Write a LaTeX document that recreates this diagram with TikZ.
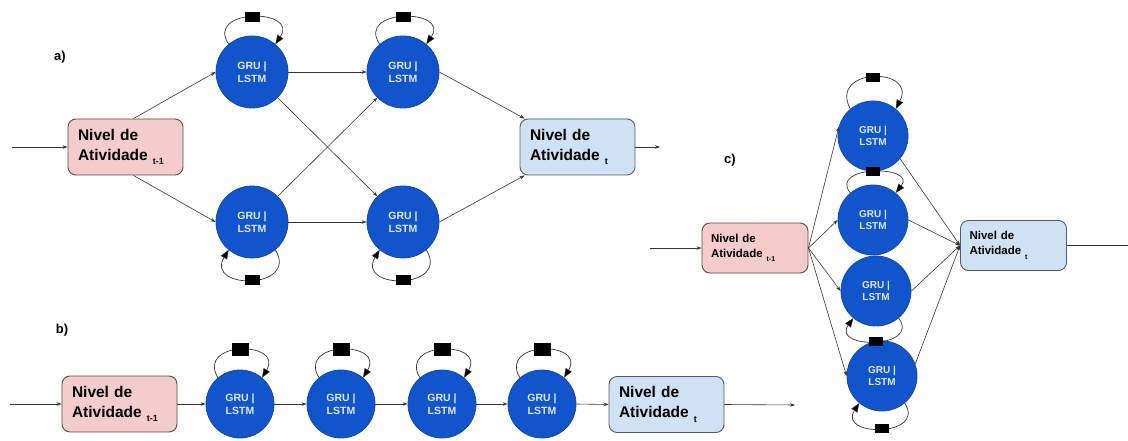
\documentclass[tikz,border=0pt]{standalone}
\usepackage{fontspec}
\setmainfont{Liberation Sans}
\usetikzlibrary{arrows.meta,calc}

\definecolor{gblue}{RGB}{17,85,204}
\definecolor{gblueedge}{RGB}{22,70,165}
\definecolor{pinkfill}{RGB}{244,204,204}
\definecolor{pinkedge}{RGB}{95,72,72}
\definecolor{lbfill}{RGB}{207,226,243}
\definecolor{lbedge}{RGB}{82,92,108}
\definecolor{celltext}{RGB}{225,232,246}

\newcommand{\subsc}[2]{\ {\fontsize{#1}{#1}\selectfont\raisebox{-4.5pt}{#2}}}

\tikzset{
 cell/.style={circle, fill=gblue, draw=gblueedge, line width=0.8pt, minimum size=72pt, inner sep=0pt, align=center, text=celltext, font=\bfseries\fontsize{10.5}{12.5}\selectfont},
 cellc/.style={cell, minimum size=70pt, font=\bfseries\fontsize{10}{12}\selectfont},
 boxbase/.style={rounded corners=8pt, line width=0.9pt, align=left, inner xsep=10pt, inner ysep=0pt, minimum width=115pt, text width=95pt, minimum height=56pt, font=\bfseries\fontsize{15.5}{20}\selectfont},
 boxsmall/.style={boxbase, minimum width=106pt, text width=88pt, inner xsep=9pt, minimum height=50pt, font=\bfseries\fontsize{11.5}{15}\selectfont},
 inbox/.style={fill=pinkfill, draw=pinkedge},
 outbox/.style={fill=lbfill, draw=lbedge},
 conn/.style={-{Stealth[length=5pt,width=3.5pt]}, line width=0.6pt, draw=black!80},
 selfloop/.style={-{Triangle[length=9pt,width=7pt,fill=black,line width=0.4pt]}, line width=0.7pt, draw=black!80},
 sq/.style={fill=black, minimum width=15pt, minimum height=10pt, inner sep=0pt},
 sqb/.style={sq, minimum width=17pt, minimum height=13pt},
 sqc/.style={sq, minimum width=14pt, minimum height=9pt},
 lab/.style={font=\bfseries\fontsize{13}{13}\selectfont},
}

\begin{document}
\begin{tikzpicture}[x=1pt,y=-1pt]
\useasboundingbox (0,0) rectangle (1128,441);

% ---------------- panel a ----------------
\node[lab] (la) at (60,57) {a)};
\node[boxbase,inbox] (pa) at (125.5,147) {Nivel de\\Atividade\subsc{9}{t-1}};
\node[boxbase,outbox] (ba) at (577.5,147) {Nivel de\\Atividade\subsc{9}{t}};
\node[cell] (a1) at (252,72) {GRU |\\LSTM};
\node[cell] (a2) at (403,72) {GRU |\\LSTM};
\node[cell] (a3) at (252,222) {GRU |\\LSTM};
\node[cell] (a4) at (403,222) {GRU |\\LSTM};
\coordinate (ina) at (12,147);
\coordinate (outa) at (660,147);

\draw[selfloop] (a1.130) .. controls +(-24,-36) and +(24,-36) .. node[sq] (sqa1) {} (a1.50);
\draw[selfloop] (a2.130) .. controls +(-24,-36) and +(24,-36) .. node[sq] (sqa2) {} (a2.50);
\draw[selfloop] (a3.-50) .. controls +(24,40) and +(-24,40) .. node[sq] (sqa3) {} (a3.-130);
\draw[selfloop] (a4.-50) .. controls +(24,40) and +(-24,40) .. node[sq] (sqa4) {} (a4.-130);

\draw[conn] (ina) -- (pa.west);
\draw[conn] ([xshift=8pt]pa.north) -- (a1.west);
\draw[conn] ([xshift=8pt]pa.south) -- (a3.west);
\draw[conn] (a1.east) -- (a2.west);
\draw[conn] (a3.east) -- (a4.west);
\draw[conn] (a1.-45) -- (a4.135);
\draw[conn] (a3.45) -- (a2.-135);
\draw[conn] (a2.east) -- ([xshift=5pt]ba.north west);
\draw[conn] (a4.east) -- ([xshift=5pt]ba.south west);
\draw[conn] (ba.east) -- (outa);

% ---------------- panel b ----------------
\node[lab] (lb) at (62,330) {b)};
\node[boxbase,inbox] (pb) at (119.5,404) {Nivel de\\Atividade\subsc{9}{t-1}};
\node[boxbase,outbox] (bb) at (666.5,404.5) {Nivel de\\Atividade\subsc{9}{t}};
\node[cell, minimum size=68pt] (b1) at (240,404) {GRU |\\LSTM};
\node[cell, minimum size=68pt] (b2) at (341,404) {GRU |\\LSTM};
\node[cell, minimum size=68pt] (b3) at (442,404) {GRU |\\LSTM};
\node[cell, minimum size=68pt] (b4) at (542,404) {GRU |\\LSTM};
\coordinate (inb) at (10,404);
\coordinate (outb) at (795,405);

\draw[selfloop] (b1.130) .. controls +(-22,-37) and +(22,-37) .. node[sqb] (sqb1) {} (b1.50);
\draw[selfloop] (b2.130) .. controls +(-22,-37) and +(22,-37) .. node[sqb] (sqb2) {} (b2.50);
\draw[selfloop] (b3.130) .. controls +(-22,-37) and +(22,-37) .. node[sqb] (sqb3) {} (b3.50);
\draw[selfloop] (b4.130) .. controls +(-22,-37) and +(22,-37) .. node[sqb] (sqb4) {} (b4.50);

\draw[conn] (inb) -- (pb.west);
\draw[conn] (pb.east) -- (b1.west);
\draw[conn] (b1.east) -- (b2.west);
\draw[conn] (b2.east) -- (b3.west);
\draw[conn] (b3.east) -- (b4.west);
\draw[conn] (b4.east) -- (bb.west);
\draw[conn] (bb.east) -- (outb);

% ---------------- panel c ----------------
\node[lab] (lc) at (730,160) {c)};
\node[boxsmall,inbox] (pc) at (755,248) {Nivel de\\Atividade\subsc{7}{t-1}};
\node[boxsmall,outbox] (bc) at (1013.5,245.5) {Nivel de\\Atividade\subsc{7}{t}};
\node[cellc] (c1) at (873,136) {GRU |\\LSTM};
\node[cellc] (c2) at (873,220) {GRU |\\LSTM};
\node[cellc] (c3) at (876,291) {GRU |\\LSTM};
\node[cellc] (c4) at (882,376) {GRU |\\LSTM};
\coordinate (inc) at (650,248);
\coordinate (outc) at (1128,245.5);

\draw[selfloop] (c1.130) .. controls +(-22,-42) and +(22,-42) .. node[sqc] (sqc1) {} (c1.50);
\draw[selfloop] (c2.130) .. controls +(-22,-28) and +(22,-28) .. node[sqc] (sqc2) {} (c2.50);
\draw[selfloop] (c3.-50) .. controls +(22,31) and +(-22,31) .. node[sqc] (sqc3) {} (c3.-130);
\draw[selfloop] (c4.-50) .. controls +(22,34) and +(-22,34) .. node[sqc] (sqc4) {} (c4.-130);

\draw[conn] (inc) -- (pc.west);
\draw[conn] (pc.east) -- (c1.165);
\draw[conn] (pc.east) -- (c2.west);
\draw[conn] (pc.east) -- (c3.west);
\draw[conn] (pc.east) -- (c4.west);
\draw[conn] (c1.-40) -- (bc.west);
\draw[conn] (c2.east) -- (bc.west);
\draw[conn] (c3.east) -- (bc.west);
\draw[conn] (c4.20) -- (bc.west);
\draw[line width=0.6pt, draw=black!80] (bc.east) -- (outc);
\end{tikzpicture}
\end{document}
